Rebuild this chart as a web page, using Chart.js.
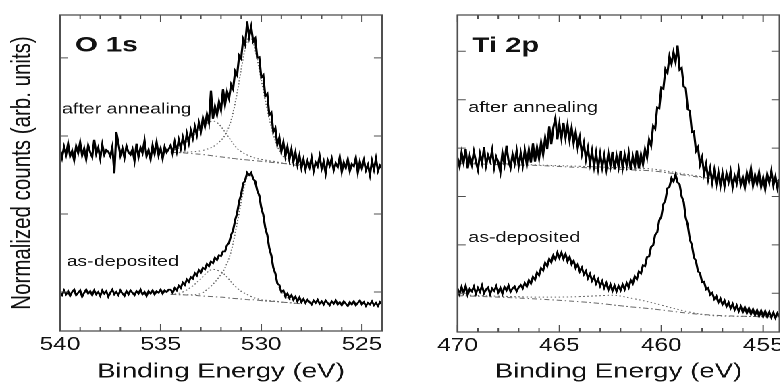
<!DOCTYPE html>
<html>
<head>
<meta charset="utf-8">
<title>XPS O 1s and Ti 2p</title>
<script src="https://cdn.jsdelivr.net/npm/chart.js@4.4.1/dist/chart.umd.min.js"></script>
<style>
  html, body { margin: 0; padding: 0; background: #fff; overflow: hidden; width: 780px; height: 383px; }
  /* the original figure is stretched sideways, so the whole drawing is too */
  #stretch { position: absolute; left: 0; top: 0; width: 600px; height: 383px; transform: scaleX(1.35); transform-origin: 0 0; }
  canvas { position: absolute; top: 0; }
  #o1sChart { left: 0; }
  #ti2pChart { left: 300px; }
</style>
</head>
<body>
<div id="stretch">
  <canvas id="o1sChart" width="300" height="383"></canvas>
  <canvas id="ti2pChart" width="290" height="383"></canvas>
</div>
<script>
// O 1s spectra (binding energy in eV, normalized counts)
const o1sEnergy = [
    540.0,539.9,539.8,539.7,539.6,539.5,539.4,539.3,539.2,539.1,
    539.0,538.9,538.8,538.7,538.6,538.5,538.4,538.3,538.2,538.1,
    538.0,537.9,537.8,537.7,537.6,537.5,537.4,537.3,537.2,537.1,
    537.0,536.9,536.8,536.7,536.6,536.5,536.4,536.3,536.2,536.1,
    536.0,535.9,535.8,535.7,535.6,535.5,535.4,535.3,535.2,535.1,
    535.0,534.9,534.8,534.7,534.6,534.5,534.4,534.3,534.2,534.1,
    534.0,533.9,533.8,533.7,533.6,533.5,533.4,533.3,533.2,533.1,
    533.0,532.9,532.8,532.7,532.6,532.5,532.4,532.3,532.2,532.1,
    532.0,531.9,531.8,531.7,531.6,531.5,531.4,531.3,531.2,531.1,
    531.0,530.9,530.8,530.7,530.6,530.5,530.4,530.3,530.2,530.1,
    530.0,529.9,529.8,529.7,529.6,529.5,529.4,529.3,529.2,529.1,
    529.0,528.9,528.8,528.7,528.6,528.5,528.4,528.3,528.2,528.1,
    528.0,527.9,527.8,527.7,527.6,527.5,527.4,527.3,527.2,527.1,
    527.0,526.9,526.8,526.7,526.6,526.5,526.4,526.3,526.2,526.1,
    526.0,525.9,525.8,525.7,525.6,525.5,525.4,525.3,525.2,525.1,
    525.0,524.9,524.8,524.7,524.6,524.5,524.4,524.3,524.2,524.1,
    524.0
];
const o1sAsDeposited = [
    -0.01,-0.04,0.02,-0.03,0.01,-0.05,0.00,0.03,-0.04,-0.01,
    0.02,-0.06,-0.01,0.03,-0.02,0.01,-0.04,0.02,-0.03,0.00,
    -0.05,0.02,-0.02,0.01,-0.06,-0.01,0.03,-0.03,0.00,-0.04,
    0.02,-0.02,-0.05,0.01,-0.03,0.02,-0.01,-0.04,0.01,-0.02,
    0.03,-0.03,0.00,-0.05,0.01,-0.02,0.02,-0.03,0.01,-0.01,
    0.03,-0.02,0.02,0.00,0.03,0.03,-0.01,0.05,0.02,0.08,
    0.05,0.12,0.09,0.16,0.13,0.19,0.17,0.24,0.21,0.28,
    0.25,0.31,0.29,0.36,0.33,0.39,0.37,0.44,0.41,0.47,
    0.46,0.52,0.52,0.60,0.63,0.73,0.79,0.92,1.01,1.16,
    1.25,1.39,1.43,1.53,1.50,1.53,1.45,1.42,1.30,1.24,
    1.08,0.99,0.82,0.73,0.56,0.47,0.31,0.24,0.11,0.09,
    0.00,0.02,-0.06,-0.02,-0.08,-0.04,-0.10,-0.06,-0.12,-0.07,
    -0.13,-0.09,-0.14,-0.10,-0.13,-0.16,-0.11,-0.14,-0.10,-0.15,
    -0.12,-0.16,-0.11,-0.14,-0.17,-0.12,-0.15,-0.11,-0.16,-0.13,
    -0.17,-0.12,-0.15,-0.18,-0.13,-0.16,-0.12,-0.17,-0.14,-0.11,
    -0.16,-0.13,-0.18,-0.14,-0.16,-0.12,-0.17,-0.14,-0.18,-0.13,
    -0.16
];
const o1sAnnealed = [
    1.83,1.72,1.86,1.76,1.90,1.74,1.81,1.69,1.87,1.78,
    1.92,1.75,1.84,1.70,1.88,1.79,1.73,1.95,1.77,1.85,
    1.71,1.89,1.76,1.82,1.80,1.74,1.86,1.52,2.05,1.91,
    1.75,1.84,1.72,1.87,1.79,1.76,1.83,1.68,1.90,1.73,
    1.85,1.78,1.94,1.74,1.82,1.70,1.88,1.77,1.92,1.75,
    1.84,1.71,1.86,1.79,1.83,1.88,1.77,1.92,1.80,1.95,
    1.84,1.98,1.86,2.03,1.91,2.07,1.97,2.12,2.01,2.17,
    2.06,2.23,2.12,2.28,2.17,2.58,2.22,2.38,2.27,2.44,
    2.33,2.60,2.40,2.57,2.48,2.66,2.60,2.83,2.78,3.03,
    2.99,3.24,3.17,3.47,3.27,3.40,3.21,3.25,3.00,3.01,
    2.75,2.78,2.51,2.54,2.27,2.30,2.05,2.10,1.89,1.98,
    1.80,1.92,1.74,1.86,1.70,1.83,1.67,1.79,1.63,1.75,
    1.59,1.70,1.57,1.68,1.60,1.72,1.55,1.66,1.61,1.74,
    1.58,1.67,1.52,1.69,1.62,1.71,1.56,1.65,1.60,1.73,
    1.54,1.66,1.59,1.70,1.55,1.64,1.61,1.72,1.53,1.67,
    1.58,1.69,1.56,1.63,1.50,1.68,1.57,1.71,1.55,1.62,
    1.58
];

// O 1s fit: background and the two components
const o1sFitEnergy = [534.5, 534.0, 533.5, 533.0, 532.7, 532.4, 532.1, 531.8, 531.5, 531.2, 531.0, 530.8,
                      530.6, 530.4, 530.2, 530.0, 529.8, 529.6, 529.4, 529.2, 529.0, 528.7, 528.3, 528.0];
const o1sAsDepBackground = [-0.03, -0.035, -0.04, -0.05, -0.055, -0.06, -0.065, -0.07, -0.08, -0.085, -0.09, -0.095,
                            -0.10, -0.10, -0.105, -0.11, -0.115, -0.12, -0.12, -0.125, -0.13, -0.135, -0.145, -0.15];
const o1sAsDepShoulder = [-0.03, -0.01, 0.06, 0.17, 0.25, 0.29, 0.27, 0.22, 0.13, 0.05, 0.01, -0.02,
                          -0.045, -0.07, -0.085, -0.10, -0.105, -0.11, -0.115, -0.12, -0.13, -0.135, -0.145, -0.15];
const o1sAsDepMain = [-0.03, -0.035, -0.035, -0.02, 0.03, 0.10, 0.19, 0.31, 0.52, 0.88, 1.15, 1.40,
                      1.50, 1.45, 1.30, 1.08, 0.83, 0.56, 0.31, 0.12, 0.00, -0.08, -0.12, -0.14];
const o1sAnnBackground = [1.79, 1.785, 1.775, 1.765, 1.755, 1.745, 1.735, 1.725, 1.715, 1.705, 1.70, 1.695,
                          1.69, 1.685, 1.68, 1.675, 1.67, 1.665, 1.66, 1.655, 1.65, 1.64, 1.625, 1.615];
const o1sAnnShoulder = [1.80, 1.86, 1.97, 2.09, 2.16, 2.19, 2.15, 2.05, 1.94, 1.84, 1.80, 1.77,
                        1.745, 1.725, 1.71, 1.70, 1.69, 1.68, 1.675, 1.665, 1.655, 1.645, 1.63, 1.615];
const o1sAnnMain = [1.79, 1.79, 1.795, 1.81, 1.83, 1.86, 1.92, 2.01, 2.20, 2.55, 2.85, 3.12,
                    3.27, 3.20, 2.98, 2.72, 2.46, 2.22, 2.02, 1.87, 1.77, 1.69, 1.645, 1.625];

const o1sTicks = [525, 530, 535, 540];
const o1sLevelTicks = [0, 1, 2, 3];

// Ti 2p spectra
const ti2pEnergy = [
    470.0,469.9,469.8,469.7,469.6,469.5,469.4,469.3,469.2,469.1,
    469.0,468.9,468.8,468.7,468.6,468.5,468.4,468.3,468.2,468.1,
    468.0,467.9,467.8,467.7,467.6,467.5,467.4,467.3,467.2,467.1,
    467.0,466.9,466.8,466.7,466.6,466.5,466.4,466.3,466.2,466.1,
    466.0,465.9,465.8,465.7,465.6,465.5,465.4,465.3,465.2,465.1,
    465.0,464.9,464.8,464.7,464.6,464.5,464.4,464.3,464.2,464.1,
    464.0,463.9,463.8,463.7,463.6,463.5,463.4,463.3,463.2,463.1,
    463.0,462.9,462.8,462.7,462.6,462.5,462.4,462.3,462.2,462.1,
    462.0,461.9,461.8,461.7,461.6,461.5,461.4,461.3,461.2,461.1,
    461.0,460.9,460.8,460.7,460.6,460.5,460.4,460.3,460.2,460.1,
    460.0,459.9,459.8,459.7,459.6,459.5,459.4,459.3,459.2,459.1,
    459.0,458.9,458.8,458.7,458.6,458.5,458.4,458.3,458.2,458.1,
    458.0,457.9,457.8,457.7,457.6,457.5,457.4,457.3,457.2,457.1,
    457.0,456.9,456.8,456.7,456.6,456.5,456.4,456.3,456.2,456.1,
    456.0,455.9,455.8,455.7,455.6,455.5,455.4,455.3,455.2,455.1,
    455.0,454.9,454.8,454.7,454.6,454.5,454.4,454.3,454.2
];
const ti2pAsDeposited = [
    0.10,-0.02,0.13,0.01,0.15,-0.03,0.09,0.04,0.14,-0.01,
    0.11,0.03,0.16,0.00,0.08,0.12,-0.02,0.10,0.05,0.15,
    0.02,0.11,-0.01,0.13,0.06,0.16,0.03,0.10,0.14,0.04,
    0.12,0.17,0.10,0.21,0.14,0.27,0.20,0.34,0.28,0.43,
    0.37,0.52,0.47,0.63,0.56,0.71,0.64,0.78,0.70,0.84,
    0.73,0.84,0.71,0.81,0.66,0.75,0.60,0.67,0.52,0.60,
    0.45,0.53,0.39,0.46,0.31,0.40,0.26,0.34,0.20,0.29,
    0.15,0.25,0.11,0.21,0.07,0.18,0.05,0.16,0.04,0.15,
    0.06,0.18,0.08,0.21,0.12,0.27,0.20,0.35,0.29,0.45,
    0.41,0.58,0.56,0.75,0.76,0.96,0.99,1.21,1.26,1.51,
    1.58,1.84,1.92,2.17,2.20,2.38,2.31,2.45,2.29,2.25,
    2.00,1.89,1.56,1.41,1.11,1.00,0.74,0.67,0.45,0.42,
    0.23,0.24,0.08,0.11,-0.03,0.01,-0.12,-0.06,-0.19,-0.11,
    -0.23,-0.15,-0.27,-0.19,-0.31,-0.22,-0.34,-0.25,-0.37,-0.27,
    -0.39,-0.29,-0.41,-0.31,-0.43,-0.33,-0.45,-0.35,-0.47,-0.36,
    -0.48,-0.37,-0.49,-0.39,-0.50,-0.40,-0.51,-0.41,-0.48
];
const ti2pAnnealed = [
    2.80,2.62,2.91,2.70,2.98,2.58,2.84,2.66,2.93,2.72,
    2.55,2.88,2.69,3.02,2.64,2.85,2.73,2.96,2.60,2.82,
    2.71,2.50,2.90,2.67,3.05,2.74,2.59,2.87,2.68,2.95,
    2.63,2.90,2.64,2.95,2.66,2.97,2.70,3.10,2.72,3.02,
    2.78,3.12,2.86,3.22,2.98,3.45,3.08,3.42,3.62,3.18,
    3.50,3.20,3.52,3.21,3.48,3.16,3.42,3.10,3.33,3.00,
    3.22,2.88,3.10,2.77,3.00,2.68,2.94,2.62,2.90,2.58,
    2.88,2.60,2.85,2.57,2.89,2.63,2.92,2.56,2.84,2.61,
    2.94,2.59,2.86,2.64,2.90,2.55,2.83,2.62,2.95,2.58,
    2.87,2.66,2.98,2.80,3.18,3.05,3.46,3.40,3.84,3.82,
    4.25,4.22,4.63,4.55,4.90,4.74,4.98,4.78,5.12,4.62,
    4.66,4.27,4.24,3.80,3.77,3.33,3.35,2.94,3.02,2.66,
    2.81,2.47,2.67,2.36,2.58,2.29,2.54,2.25,2.50,2.22,
    2.48,2.21,2.47,2.30,2.52,2.19,2.42,2.27,2.55,2.24,
    2.40,2.18,2.49,2.31,2.58,2.22,2.44,2.26,2.50,2.20,
    2.39,2.15,2.46,2.29,2.53,2.23,2.41,2.17,2.36
];

// Ti 2p backgrounds
const ti2pFitEnergy = [470.0, 468.0, 466.0, 464.5, 463.0, 462.4, 461.5, 460.5, 459.5, 458.5, 457.5, 456.5, 455.5, 454.2];
const ti2pAsDepShirley = [-0.03, -0.06, -0.08, -0.075, -0.05, -0.04, -0.10, -0.19, -0.30, -0.40, -0.46, -0.475, -0.48, -0.49];
const ti2pAsDepBackground = [-0.05, -0.08, -0.12, -0.16, -0.21, -0.24, -0.28, -0.32, -0.37, -0.42, -0.45, -0.47, -0.48, -0.49];
const ti2pAnnShirley = [2.70, 2.68, 2.65, 2.63, 2.61, 2.60, 2.59, 2.57, 2.51, 2.44, 2.38, 2.35, 2.34, 2.33];
const ti2pAnnBackground = [2.68, 2.66, 2.64, 2.61, 2.58, 2.57, 2.55, 2.53, 2.48, 2.42, 2.37, 2.34, 2.33, 2.32];

const ti2pTicks = [455, 460, 465, 470];
const ti2pLevelTicks = [0, 1, 2, 3, 4, 5];

const FONT = '"Liberation Sans", Arial, sans-serif';
const TEXT = '#111';
const DOTTED = [1.2, 1.8];
const DASH_DOT = [4, 2, 1.2, 2];

function xy(xs, ys) {
    return xs.map((x, i) => ({ x: x, y: ys[i] }));
}

function dataLine(xs, ys) {
    return { data: xy(xs, ys), borderColor: '#000', borderWidth: 1.6, pointRadius: 0, order: 0 };
}

function fitLine(xs, ys, dash) {
    return {
        data: xy(xs, ys), borderColor: '#6a6a6a', borderWidth: 1, borderDash: dash,
        pointRadius: 0, cubicInterpolationMode: 'monotone', order: 1
    };
}

// Box frame, inward ticks and the panel labels
const framePlugin = {
    id: 'frame',
    afterDatasetsDraw(chart, args, opts) {
        const { ctx, chartArea: a } = chart;
        const x = chart.scales.x, y = chart.scales.y;
        ctx.save();
        ctx.strokeStyle = '#505050';
        ctx.lineWidth = 1.3;
        ctx.strokeRect(a.left, a.top, a.right - a.left, a.bottom - a.top);

        ctx.lineWidth = 1;
        ctx.beginPath();
        for (let e = Math.ceil(x.min); e <= Math.floor(x.max); e++) {
            const px = x.getPixelForValue(e);
            const len = e % 5 === 0 ? 7 : 4;
            ctx.moveTo(px, a.bottom); ctx.lineTo(px, a.bottom - len);
            ctx.moveTo(px, a.top); ctx.lineTo(px, a.top + len);
        }
        y.ticks.forEach(t => {
            const py = y.getPixelForValue(t.value);
            ctx.moveTo(a.left, py); ctx.lineTo(a.left + 6, py);
            ctx.moveTo(a.right, py); ctx.lineTo(a.right - 6, py);
        });
        ctx.stroke();

        ctx.fillStyle = TEXT;
        ctx.textBaseline = 'alphabetic';
        opts.labels.forEach(l => {
            ctx.font = l.font;
            ctx.fillText(l.text, x.getPixelForValue(l.x), y.getPixelForValue(l.y));
        });
        ctx.restore();
    }
};

function makePanel(id, cfg) {
    return new Chart(document.getElementById(id), {
        type: 'line',
        data: { datasets: cfg.datasets },
        options: {
            responsive: false,
            animation: false,
            devicePixelRatio: 2,
            layout: { padding: cfg.padding },
            plugins: {
                legend: { display: false },
                tooltip: { enabled: false },
                frame: { labels: cfg.labels }
            },
            scales: {
                x: {
                    type: 'linear',
                    reverse: true,
                    min: cfg.xMin,
                    max: cfg.xMax,
                    afterBuildTicks: s => { s.ticks = cfg.xTicks.map(v => ({ value: v })); },
                    afterFit: s => { s.height = cfg.xHeight; },
                    grid: { display: false, drawTicks: false },
                    border: { display: false },
                    ticks: { color: TEXT, font: { family: FONT, size: 18 }, padding: 3, maxRotation: 0, autoSkip: false },
                    title: {
                        display: true, text: 'Binding Energy (eV)', color: TEXT,
                        font: { family: FONT, size: 20.5, lineHeight: 1.1 }, padding: 0
                    }
                },
                y: {
                    type: 'linear',
                    min: cfg.yMin,
                    max: cfg.yMax,
                    afterBuildTicks: s => { s.ticks = cfg.yTicks.map(v => ({ value: v })); },
                    afterFit: s => { s.width = cfg.yWidth; },
                    grid: { display: false, drawTicks: false },
                    border: { display: false },
                    ticks: { display: false },
                    title: cfg.yTitle
                }
            }
        },
        plugins: [framePlugin]
    });
}

// O 1s panel
makePanel('o1sChart', {
    datasets: [
        dataLine(o1sEnergy, o1sAnnealed),
        dataLine(o1sEnergy, o1sAsDeposited),
        fitLine(o1sFitEnergy, o1sAnnBackground, DASH_DOT),
        fitLine(o1sFitEnergy, o1sAnnShoulder, DOTTED),
        fitLine(o1sFitEnergy, o1sAnnMain, DOTTED),
        fitLine(o1sFitEnergy, o1sAsDepBackground, DASH_DOT),
        fitLine(o1sFitEnergy, o1sAsDepShoulder, DOTTED),
        fitLine(o1sFitEnergy, o1sAsDepMain, DOTTED)
    ],
    padding: { top: 15, right: 17.04, bottom: 0, left: 0 },
    xMin: 524, xMax: 540, xTicks: o1sTicks, xHeight: 52,
    yMin: -0.5, yMax: 3.55, yTicks: o1sLevelTicks, yWidth: 44.44,
    yTitle: {
        display: true, text: 'Normalized counts (arb. units)', color: TEXT,
        font: { family: FONT, size: 20.5 }, padding: { top: 4.7, bottom: 0 }
    },
    labels: [
        { text: 'O 1s', x: 539.25, y: 3.08, font: 'bold 21.5px ' + FONT },
        { text: 'after annealing', x: 539.9, y: 2.29, font: '14.5px ' + FONT },
        { text: 'as-deposited', x: 539.67, y: 0.33, font: '14.5px ' + FONT }
    ]
});

// Ti 2p panel
makePanel('ti2pChart', {
    datasets: [
        dataLine(ti2pEnergy, ti2pAnnealed),
        dataLine(ti2pEnergy, ti2pAsDeposited),
        fitLine(ti2pFitEnergy, ti2pAnnShirley, DOTTED),
        fitLine(ti2pFitEnergy, ti2pAnnBackground, DASH_DOT),
        fitLine(ti2pFitEnergy, ti2pAsDepShirley, DOTTED),
        fitLine(ti2pFitEnergy, ti2pAsDepBackground, DASH_DOT)
    ],
    padding: { top: 15, right: 12.6, bottom: 0, left: 0 },
    xMin: 454.2, xMax: 470, xTicks: ti2pTicks, xHeight: 51,
    yMin: -0.8, yMax: 5.75, yTicks: ti2pLevelTicks, yWidth: 38.9,
    yTitle: { display: false },
    labels: [
        { text: 'Ti 2p', x: 469.29, y: 4.99, font: 'bold 21.5px ' + FONT },
        { text: 'after annealing', x: 469.47, y: 3.75, font: '14.5px ' + FONT },
        { text: 'as-deposited', x: 469.47, y: 1.06, font: '14.5px ' + FONT }
    ]
});
</script>
</body>
</html>
